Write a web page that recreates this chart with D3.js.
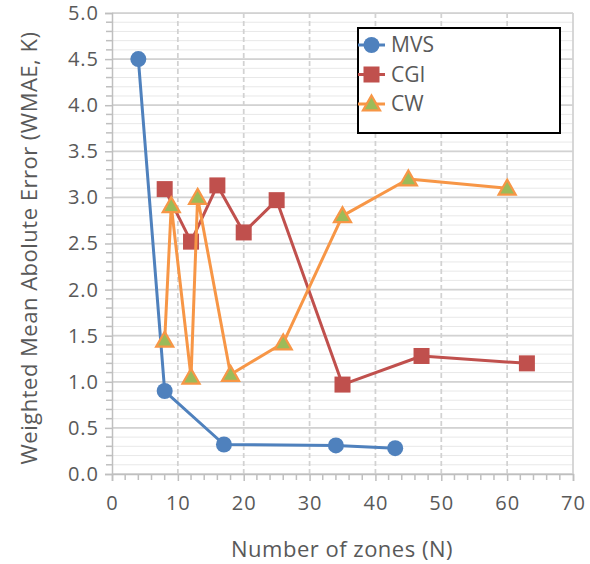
<!DOCTYPE html>
<html>
<head>
<meta charset="utf-8">
<script src="https://cdn.jsdelivr.net/npm/d3@7"></script>
<style>
  html, body { margin: 0; padding: 0; background: #fff; }
  svg { display: block; }
  text { font-family: "Open Sans", "Noto Sans", sans-serif; fill: #595959; }
</style>
</head>
<body>
<div id="chart"></div>
<script>
const seriesNames = ["MVS", "CGI", "CW"];
const mvsX = [4, 8, 17, 34, 43];
const mvsY = [4.5, 0.9, 0.32, 0.31, 0.28];
const cgiX = [8, 12, 16, 20, 25, 35, 47, 63];
const cgiY = [3.09, 2.52, 3.13, 2.62, 2.97, 0.97, 1.28, 1.2];
const cwX = [8, 9, 12, 13, 18, 26, 35, 45, 60];
const cwY = [1.45, 2.91, 1.05, 3.0, 1.08, 1.42, 2.8, 3.2, 3.1];
const xTicks = [0, 10, 20, 30, 40, 50, 60, 70];
const yTicks = [0, 0.5, 1, 1.5, 2, 2.5, 3, 3.5, 4, 4.5, 5];
const xLabel = "Number of zones (N)";
const yLabel = "Weighted Mean Abolute Error (WMAE, K)";

const W = 590, H = 564;
const svg = d3.select("#chart").append("svg").attr("width", W).attr("height", H);

const x = d3.scaleLinear().domain([0, 70]).range([112, 573]);
const y = d3.scaleLinear().domain([0, 5]).range([474, 13]);

// minor horizontal gridlines
const yMinor = d3.range(0, 5.001, 0.1).map(v => +v.toFixed(1));
svg.append("g").selectAll("line").data(yMinor).join("line")
  .attr("x1", x(0)).attr("x2", x(70))
  .attr("y1", d => y(d)).attr("y2", d => y(d))
  .attr("stroke", "#e8e8e8").attr("stroke-width", 1);
// major horizontal gridlines
svg.append("g").selectAll("line").data(yTicks).join("line")
  .attr("x1", x(0)).attr("x2", x(70))
  .attr("y1", d => y(d)).attr("y2", d => y(d))
  .attr("stroke", "#d2d2d2").attr("stroke-width", 1.75);
// vertical dashed gridlines
svg.append("g").selectAll("line").data(xTicks.filter(d => d > 0 && d < 70)).join("line")
  .attr("x1", d => x(d)).attr("x2", d => x(d))
  .attr("y1", y(0)).attr("y2", y(5))
  .attr("stroke", "#d2d2d2").attr("stroke-width", 1.75).attr("stroke-dasharray", "5,3");
svg.append("line").attr("x1", x(70)).attr("x2", x(70)).attr("y1", y(0)).attr("y2", y(5))
  .attr("stroke", "#d2d2d2").attr("stroke-width", 1.75);

// axes
const xAxis = d3.axisBottom(x).tickValues(xTicks).tickSize(7).tickPadding(15);
const gx = svg.append("g").attr("transform", `translate(0,${y(0)})`).call(xAxis);
const xMinor = d3.range(0, 71, 2).filter(v => v % 10 !== 0);
gx.append("g").selectAll("line").data(xMinor).join("line")
  .attr("x1", d => x(d)).attr("x2", d => x(d)).attr("y1", 0).attr("y2", 6)
  .attr("stroke", "#bfbfbf").attr("stroke-width", 1.5);

const yAxis = d3.axisLeft(y).tickValues(yTicks).tickFormat(d3.format(".1f")).tickSize(7).tickPadding(6);
const gy = svg.append("g").attr("transform", `translate(${x(0)},0)`).call(yAxis);
gy.append("g").selectAll("line").data(yMinor.filter(v => Math.round(v * 10) % 5 !== 0)).join("line")
  .attr("x1", 0).attr("x2", -6).attr("y1", d => y(d)).attr("y2", d => y(d))
  .attr("stroke", "#bfbfbf").attr("stroke-width", 1.5);

[gx, gy].forEach(g => {
  g.select(".domain").attr("stroke", "#bfbfbf").attr("stroke-width", 1.5);
  g.selectAll(".tick line").attr("stroke", "#bfbfbf").attr("stroke-width", 1.5);
  g.selectAll(".tick text").style("font-size", "20px").style("letter-spacing", "1px").style("fill", "#595959")
    .style("font-family", '"Open Sans", "Noto Sans", sans-serif');
});

// axis titles
svg.append("text").attr("x", 342).attr("y", 557).attr("text-anchor", "middle")
  .style("font-size", "22px").style("letter-spacing", "0.5px").text(xLabel);
svg.append("text").attr("transform", `translate(37,248) rotate(-90)`).attr("text-anchor", "middle")
  .style("font-size", "22px").style("letter-spacing", "0.5px").text(yLabel);

const colors = { MVS: "#4F81BD", CGI: "#C0504D", CW: "#F79646" };
const line = d3.line().x(d => x(d[0])).y(d => y(d[1]));

function drawMarker(g, name, cx, cy) {
  if (name === "MVS") {
    g.append("circle").attr("cx", cx).attr("cy", cy).attr("r", 8).attr("fill", colors.MVS);
  } else if (name === "CGI") {
    g.append("rect").attr("x", cx - 8).attr("y", cy - 8).attr("width", 16).attr("height", 16).attr("fill", colors.CGI);
  } else {
    const s = 8.5;
    g.append("path").attr("d", `M${cx},${cy - s}L${cx + s},${cy + s * 0.75}L${cx - s},${cy + s * 0.75}Z`)
      .attr("fill", "#9BBB59").attr("stroke", colors.CW).attr("stroke-width", 2.25);
  }
}

const seriesData = {
  MVS: mvsX.map((v, i) => [v, mvsY[i]]),
  CGI: cgiX.map((v, i) => [v, cgiY[i]]),
  CW: cwX.map((v, i) => [v, cwY[i]])
};

seriesNames.forEach(name => {
  const g = svg.append("g");
  g.append("path").datum(seriesData[name]).attr("d", line)
    .attr("fill", "none").attr("stroke", colors[name]).attr("stroke-width", 3).attr("stroke-linejoin", "round");
  seriesData[name].forEach(d => drawMarker(g, name, x(d[0]), y(d[1])));
});

// legend
const lg = svg.append("g");
lg.append("rect").attr("x", 358).attr("y", 28).attr("width", 202).attr("height", 105)
  .attr("fill", "#fff").attr("stroke", "#000").attr("stroke-width", 2);
seriesNames.forEach((name, i) => {
  const cy = 45 + i * 29.5;
  lg.append("line").attr("x1", 358).attr("x2", 385).attr("y1", cy).attr("y2", cy)
    .attr("stroke", colors[name]).attr("stroke-width", 3);
  drawMarker(lg, name, 371.5, cy);
  lg.append("text").attr("x", 391).attr("y", cy + 7).style("font-size", "21px").text(name);
});
</script>
</body>
</html>
